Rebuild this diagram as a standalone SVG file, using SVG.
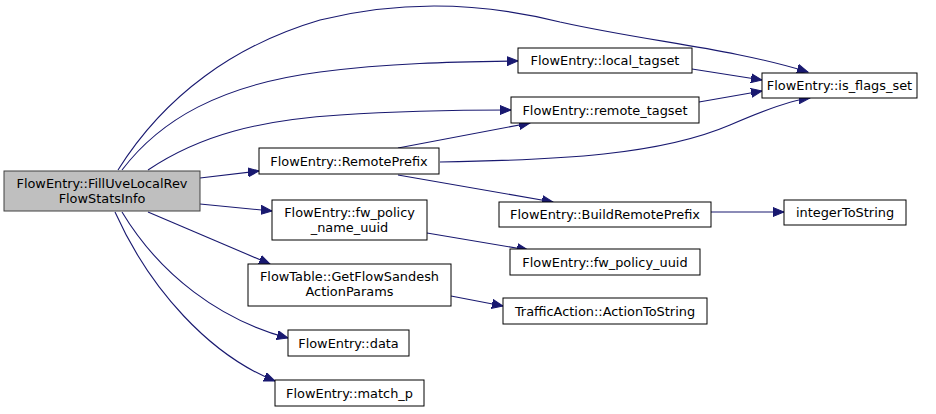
<svg xmlns="http://www.w3.org/2000/svg" width="936" height="414" viewBox="0 0 936 414">
<defs>
<marker id="ah" markerUnits="userSpaceOnUse" markerWidth="12" markerHeight="10" refX="11" refY="5" orient="auto">
<path d="M0,0.5 L11,5 L0,9.5 Z" fill="#191970" stroke="#191970" stroke-width="1"/>
</marker>
<style>
.n rect{fill:#ffffff;stroke:#000000;stroke-width:1}
.root rect{fill:#bfbfbf;stroke:#404040;stroke-width:1}
text{font-family:"DejaVu Sans","Liberation Sans",sans-serif;font-size:12.9px;fill:#000000;text-anchor:middle}
.e path{fill:none;stroke:#191970;stroke-width:1.1;marker-end:url(#ah)}
</style>
</defs>
<rect width="936" height="414" fill="#ffffff"/>
<g class="e" id="edges">
<path d="M118,170 C165,95 235,45 320,20 C400,0 480,2 560,22 C650,42 730,48 808,72"/>
<path d="M122,170 C160,120 220,85 320,72 C390,63 450,62 518,61"/>
<path d="M148,170 C200,135 260,120 340,115 C400,111 460,110 511,110"/>
<path d="M200,178 L259,171"/>
<path d="M200,204 L272,211"/>
<path d="M148,212 L270,264"/>
<path d="M122,212 C160,275 220,320 288,338"/>
<path d="M115,212 C150,290 210,355 275,381"/>
<path d="M398,148 L530,123"/>
<path d="M440,162 C560,160 660,155 730,125 C760,112 790,100 810,98"/>
<path d="M398,175 L553,202"/>
<path d="M692,69 L762,80"/>
<path d="M699,102 L762,91"/>
<path d="M711,212 L784,212"/>
<path d="M427,233 L528,250"/>
<path d="M451,296 L503,306"/>
</g>
<g id="main" class="root"><rect x="4" y="171" width="196" height="40"/><text x="102" y="188">FlowEntry::FillUveLocalRev</text><text x="102" y="203">FlowStatsInfo</text></g>
<g id="remoteprefix" class="n"><rect x="259" y="148" width="180" height="26"/><text x="349" y="165.5">FlowEntry::RemotePrefix</text></g>
<g id="fwpolicyname" class="n"><rect x="272" y="200" width="155" height="40"/><text x="349.5" y="217">FlowEntry::fw_policy</text><text x="349.5" y="232">_name_uuid</text></g>
<g id="localtagset" class="n"><rect x="518" y="48" width="174" height="25"/><text x="605" y="65">FlowEntry::local_tagset</text></g>
<g id="remotetagset" class="n"><rect x="511" y="97" width="188" height="26"/><text x="605" y="114.5">FlowEntry::remote_tagset</text></g>
<g id="isflagsset" class="n"><rect x="762" y="73" width="155" height="25"/><text x="839.5" y="90">FlowEntry::is_flags_set</text></g>
<g id="buildremoteprefix" class="n"><rect x="499" y="202" width="212" height="25"/><text x="605" y="219">FlowEntry::BuildRemotePrefix</text></g>
<g id="fwpolicyuuid" class="n"><rect x="510" y="249" width="190" height="26"/><text x="605" y="266.5">FlowEntry::fw_policy_uuid</text></g>
<g id="actiontostring" class="n"><rect x="503" y="298" width="204" height="26"/><text x="605" y="315.5">TrafficAction::ActionToString</text></g>
<g id="integertostring" class="n"><rect x="784" y="200" width="122" height="25"/><text x="845" y="217">integerToString</text></g>
<g id="getflowsandesh" class="n"><rect x="248" y="264" width="203" height="42"/><text x="349.5" y="281">FlowTable::GetFlowSandesh</text><text x="349.5" y="296">ActionParams</text></g>
<g id="data" class="n"><rect x="288" y="330" width="121" height="26"/><text x="348.5" y="347.5">FlowEntry::data</text></g>
<g id="matchp" class="n"><rect x="275" y="380" width="149" height="26"/><text x="349.5" y="397.5">FlowEntry::match_p</text></g>
</svg>
